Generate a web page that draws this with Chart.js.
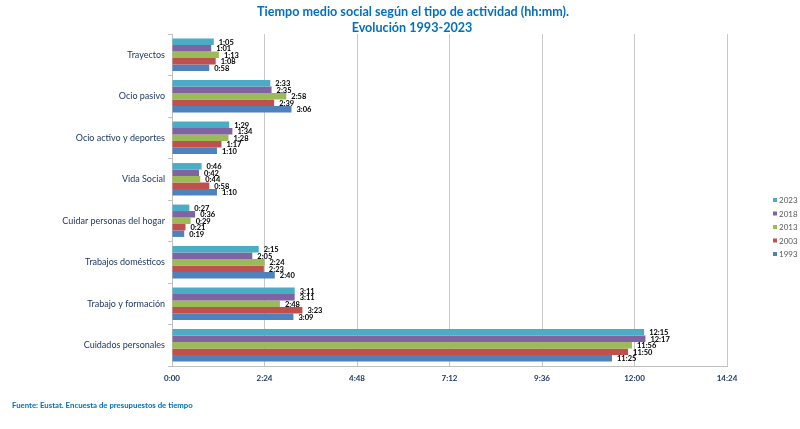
<!DOCTYPE html>
<html>
<head>
<meta charset="utf-8">
<script src="https://cdn.jsdelivr.net/npm/chart.js@4.4.1/dist/chart.umd.min.js"></script>
<style>
html,body{margin:0;padding:0;background:#fff;}
#wrap{position:relative;width:800px;height:429px;}
</style>
</head>
<body>
<div id="wrap"><canvas id="c" width="800" height="429"></canvas></div>
<script>
const categories = ["Trayectos","Ocio pasivo","Ocio activo y deportes","Vida Social","Cuidar personas del hogar","Trabajos domésticos","Trabajo y formación","Cuidados personales"];
const years = ["2023","2018","2013","2003","1993"];
// minutes
const v2023 = [65,153,89,46,27,135,191,735];
const v2018 = [61,155,94,42,36,125,191,737];
const v2013 = [73,178,88,44,29,144,168,716];
const v2003 = [68,159,77,58,21,143,203,710];
const v1993 = [58,186,70,70,19,160,189,685];
const colors = ["#4bacc6","#8064a2","#9bbb59","#c0504d","#4f81bd"];
const tickMax = 864, tickStep = 144;
const titleLines = ["Tiempo medio social según el tipo de actividad (hh:mm).","Evolución 1993-2023"];
const source = "Fuente: Eustat. Encuesta de presupuestos de tiempo";

function fmt(m){ m=Math.round(m); const h=Math.floor(m/60), mm=m%60; return h+":"+(mm<10?"0":"")+mm; }

const series=[v2023,v2018,v2013,v2003,v1993];
const datasets = years.map((y,i)=>({label:y,data:series[i],backgroundColor:colors[i],borderWidth:0,barPercentage:1,categoryPercentage:0.78}));

const extras = {
  id:'extras',
  afterDatasetsDraw(chart){
    const ctx=chart.ctx;
    ctx.save();
    ctx.font="bold 7.5px Lato";
    ctx.fillStyle="#000";
    ctx.textAlign="left";ctx.textBaseline="middle";
    chart.data.datasets.forEach((ds,di)=>{
      const meta=chart.getDatasetMeta(di);
      meta.data.forEach((el,i)=>{ ctx.fillText(fmt(ds.data[i]), el.x+5, el.y+0.5); });
    });
    ctx.restore();
  },
  afterDraw(chart){
    const ctx=chart.ctx;
    ctx.save();
    ctx.fillStyle="#0070c0";
    ctx.font="bold 12.6px Lato";
    ctx.textAlign="center";ctx.textBaseline="middle";
    ctx.fillText(titleLines[0],413,12);
    ctx.fillText(titleLines[1],412,27.5);
    ctx.font="bold 7.8px Lato";
    ctx.textAlign="left";
    ctx.fillText(source,12,405);
    // legend
    ctx.font="8px Lato";
    years.forEach((y,i)=>{
      const cy=200+i*13.5;
      ctx.fillStyle=colors[i];
      ctx.fillRect(773,cy-2,4,4);
      ctx.fillStyle="#595959";
      ctx.fillText(y,779,cy+0.5);
    });
    ctx.restore();
  }
};

new Chart(document.getElementById('c'),{
  type:'bar',
  data:{labels:categories,datasets},
  options:{
    indexAxis:'y',
    responsive:false,
    animation:false,
    layout:{padding:{left:0,right:73,top:34,bottom:0}},
    plugins:{legend:{display:false},title:{display:false},tooltip:{enabled:false}},
    scales:{
      x:{
        min:0,max:tickMax,
        afterFit(s){s.height=63;},
        ticks:{stepSize:tickStep,callback:v=>fmt(v),font:{family:'Lato',size:8,weight:'bold'},color:'#1f3864',padding:8,maxRotation:0},
        grid:{color:'#c8c8c8',drawTicks:false,lineWidth:1},
        border:{color:'#c0c0c0'}
      },
      y:{
        afterFit(s){s.width=172;},
        ticks:{font:{family:'Lato',size:9},color:'#1f3864',padding:3},
        grid:{drawOnChartArea:false,tickLength:4,color:'#c0c0c0'},
        border:{color:'#c0c0c0'}
      }
    }
  },
  plugins:[extras]
});
</script>
</body>
</html>
